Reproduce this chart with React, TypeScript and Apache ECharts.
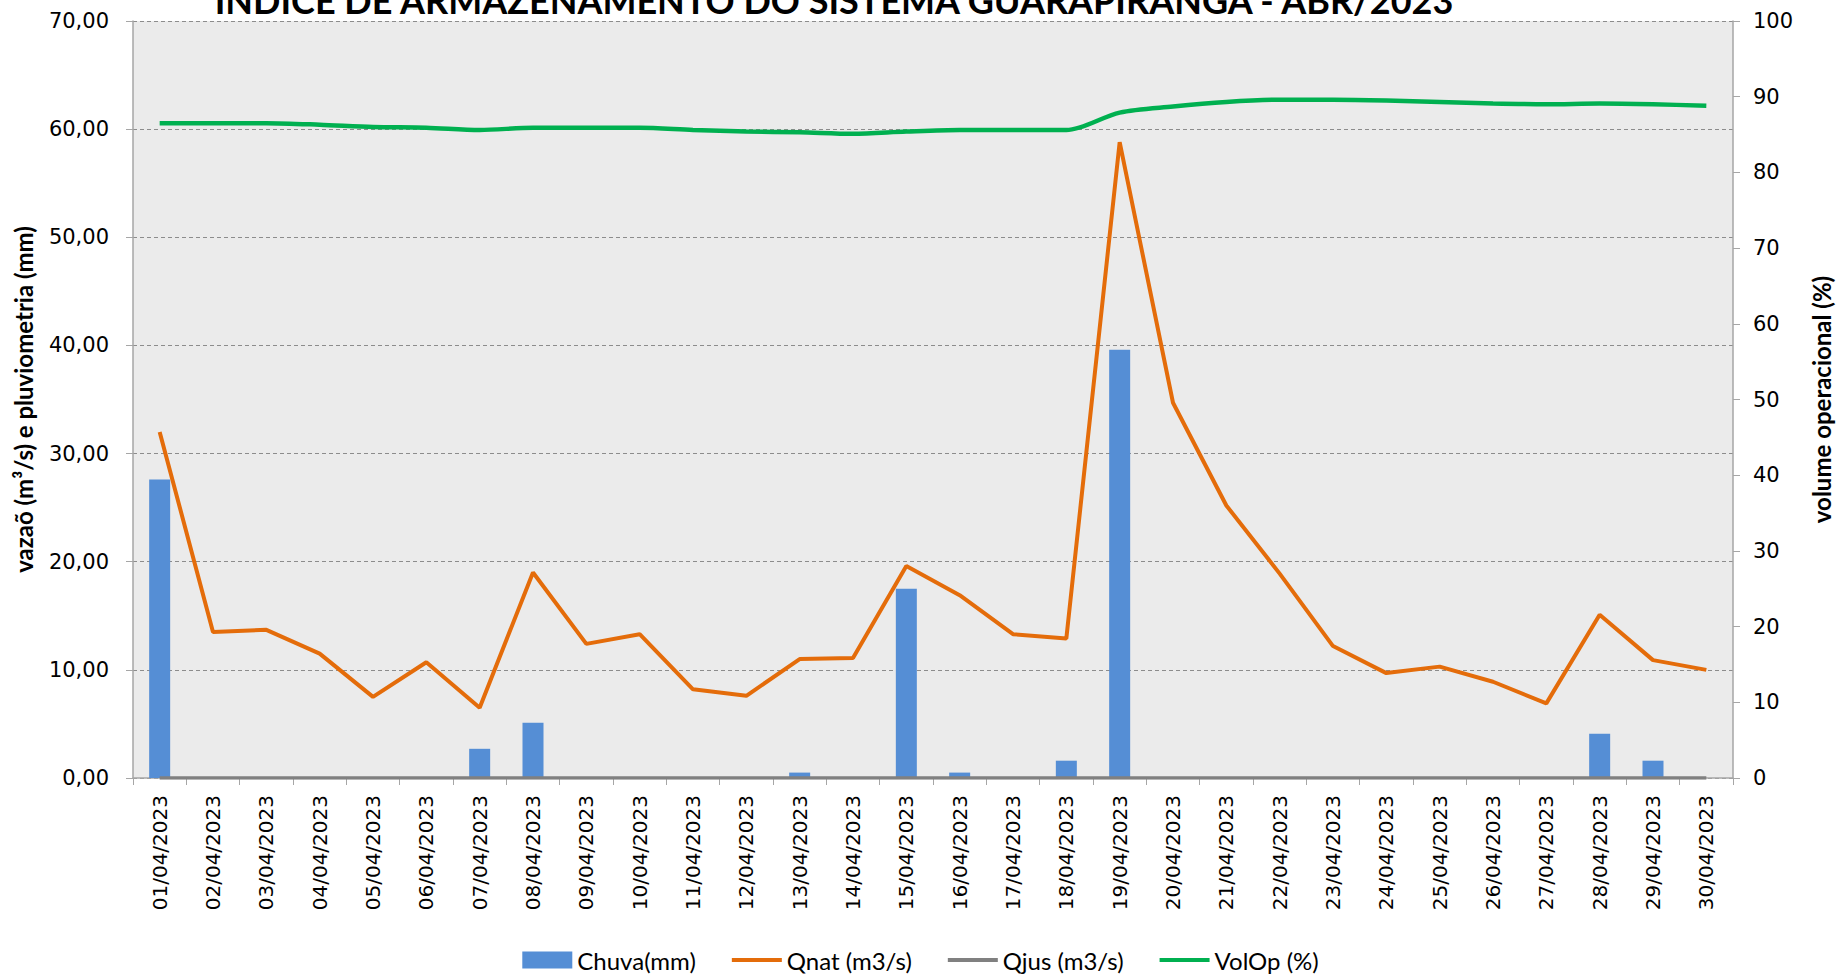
import React, { useEffect, useRef } from "react";
import * as echarts from "echarts";

const categories = [
  "01/04/2023", "02/04/2023", "03/04/2023", "04/04/2023", "05/04/2023",
  "06/04/2023", "07/04/2023", "08/04/2023", "09/04/2023", "10/04/2023",
  "11/04/2023", "12/04/2023", "13/04/2023", "14/04/2023", "15/04/2023",
  "16/04/2023", "17/04/2023", "18/04/2023", "19/04/2023", "20/04/2023",
  "21/04/2023", "22/04/2023", "23/04/2023", "24/04/2023", "25/04/2023",
  "26/04/2023", "27/04/2023", "28/04/2023", "29/04/2023", "30/04/2023",
];

const chuva = [
  27.6, 0, 0, 0, 0, 0, 2.7, 5.1, 0, 0,
  0, 0, 0.5, 0, 17.5, 0.5, 0, 1.6, 39.6, 0,
  0, 0, 0, 0, 0, 0, 0, 4.1, 1.6, 0,
];

const qnat = [
  32.0, 13.5, 13.7, 11.5, 7.5, 10.7, 6.5, 19.0, 12.4, 13.3,
  8.2, 7.6, 11.0, 11.1, 19.6, 16.9, 13.3, 12.9, 58.8, 34.7,
  25.2, 18.9, 12.2, 9.7, 10.3, 8.9, 6.9, 15.1, 10.9, 10.0,
];

const qjus = [
  0, 0, 0, 0, 0, 0, 0, 0, 0, 0,
  0, 0, 0, 0, 0, 0, 0, 0, 0, 0,
  0, 0, 0, 0, 0, 0, 0, 0, 0, 0,
];

const volOp = [
  86.5, 86.5, 86.5, 86.3, 86.0, 85.9, 85.6, 85.9, 85.9, 85.9,
  85.6, 85.4, 85.3, 85.1, 85.4, 85.6, 85.6, 85.6, 87.9, 88.7,
  89.3, 89.6, 89.6, 89.5, 89.3, 89.1, 89.0, 89.1, 89.0, 88.8,
];

const titleText = "ÍNDICE DE ARMAZENAMENTO DO SISTEMA GUARAPIRANGA - ABR/2023";

const lineIcon = "path://M0,0 L50,0 L50,4 L0,4 Z";

export default function App() {
  const ref = useRef<HTMLDivElement>(null);

  useEffect(() => {
    if (!ref.current) return;
    const chart = echarts.init(ref.current, null, { renderer: "svg" });
    const axisGray = "#a6a6a6";
    const labelFont = "DejaVu Sans";
    chart.setOption({
      animation: false,
      backgroundColor: "#ffffff",
      graphic: [
        {
          type: "text",
          x: 834,
          y: 0,
          silent: true,
          style: {
            text: titleText,
            font: "bold 36px Lato",
            fill: "#000000",
            textAlign: "center",
            textVerticalAlign: "middle",
          },
        },
      ],
      grid: {
        left: 133,
        right: 103,
        top: 21,
        bottom: 196,
        show: true,
        backgroundColor: "#ebebeb",
        borderWidth: 0,
        containLabel: false,
      },
      legend: {
        top: 948,
        left: "center",
        padding: 0,
        itemWidth: 50,
        itemHeight: 17,
        itemGap: 36,
        symbolKeepAspect: true,
        textStyle: { fontFamily: "Lato", fontSize: 24, color: "#000000" },
        data: [
          { name: "Chuva(mm)", icon: "rect" },
          { name: "Qnat (m3/s)", icon: lineIcon },
          { name: "Qjus (m3/s)", icon: lineIcon },
          { name: "VolOp (%)", icon: lineIcon },
        ],
      },
      xAxis: {
        type: "category",
        data: categories,
        boundaryGap: true,
        axisLine: { show: true, lineStyle: { color: axisGray, width: 1.5 } },
        axisTick: { show: true, alignWithLabel: false, length: 7, lineStyle: { color: axisGray } },
        axisLabel: {
          rotate: 90,
          interval: 0,
          margin: 17,
          fontFamily: labelFont,
          fontSize: 20,
          color: "#000000",
        },
        splitLine: { show: false },
      },
      yAxis: [
        {
          type: "value",
          min: 0,
          max: 70,
          interval: 10,
          position: "left",
          name: "vazaõ (m³/s) e pluviometria (mm)",
          nameLocation: "middle",
          nameRotate: 90,
          nameGap: 98,
          nameTextStyle: { fontFamily: "Lato", fontWeight: "bold", fontSize: 24, color: "#000000" },
          axisLine: { show: true, lineStyle: { color: axisGray, width: 1.5 } },
          axisTick: { show: true, length: 7, lineStyle: { color: axisGray } },
          axisLabel: {
            margin: 24,
            fontFamily: labelFont,
            fontSize: 21,
            color: "#000000",
            formatter: (v: number) => v.toFixed(2).replace(".", ","),
          },
          splitLine: { show: true, lineStyle: { color: "#8c8c8c", type: [4, 3], width: 1 } },
        },
        {
          type: "value",
          min: 0,
          max: 100,
          interval: 10,
          position: "right",
          name: "volume operacional (%)",
          nameLocation: "middle",
          nameRotate: 90,
          nameGap: 76,
          nameTextStyle: { fontFamily: "Lato", fontWeight: "bold", fontSize: 24, color: "#000000" },
          axisLine: { show: true, lineStyle: { color: axisGray, width: 1.5 } },
          axisTick: { show: true, length: 7, lineStyle: { color: axisGray } },
          axisLabel: {
            margin: 20,
            fontFamily: labelFont,
            fontSize: 21,
            color: "#000000",
          },
          splitLine: { show: false },
        },
      ],
      series: [
        {
          name: "Chuva(mm)",
          type: "bar",
          yAxisIndex: 0,
          data: chuva,
          barWidth: 21,
          itemStyle: { color: "#558ed5" },
        },
        {
          name: "Qnat (m3/s)",
          type: "line",
          yAxisIndex: 0,
          data: qnat,
          symbol: "none",
          lineStyle: { color: "#e46c0a", width: 4 },
          itemStyle: { color: "#e46c0a" },
        },
        {
          name: "Qjus (m3/s)",
          type: "line",
          yAxisIndex: 0,
          data: qjus,
          symbol: "none",
          lineStyle: { color: "#808080", width: 3.5 },
          itemStyle: { color: "#808080" },
        },
        {
          name: "VolOp (%)",
          type: "line",
          yAxisIndex: 1,
          data: volOp,
          symbol: "none",
          smooth: 0.3,
          lineStyle: { color: "#00b050", width: 4.5 },
          itemStyle: { color: "#00b050" },
        },
      ],
    });
    return () => chart.dispose();
  }, []);

  return (
    <div
      ref={ref}
      style={{ position: "absolute", left: 0, top: 0, width: 1841, height: 974 }}
    />
  );
}
